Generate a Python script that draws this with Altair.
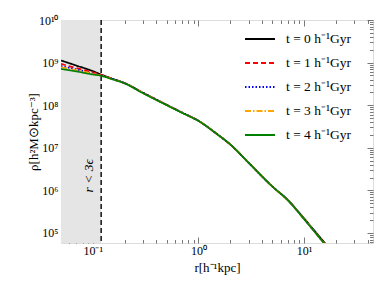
import altair as alt
import pandas as pd

# ---- data ----
r = [0.05, 0.07, 0.1, 0.12, 0.15, 0.2, 0.3, 0.5, 0.7, 1, 1.5, 2, 3, 5, 7, 10, 14, 18]
rho_t0 = [1.12e9, 8.5e8, 6.3e8, 5.25e8, 4.27e8, 3.31e8, 1.95e8, 1.02e8, 6.7e7, 4.3e7, 2.1e7, 1.2e7, 4.4e6, 1.24e6, 6.0e5, 2.2e5, 8.2e4, 3.9e4]
rho_t1 = [9.3e8, 7.4e8, 5.9e8, 5.13e8, 4.2e8, 3.3e8, 1.94e8, 1.02e8, 6.7e7, 4.3e7, 2.1e7, 1.2e7, 4.4e6, 1.24e6, 5.95e5, 2.15e5, 7.9e4, 3.7e4]
rho_t2 = [8.3e8, 6.9e8, 5.6e8, 5.0e8, 4.17e8, 3.28e8, 1.93e8, 1.01e8, 6.7e7, 4.3e7, 2.1e7, 1.2e7, 4.4e6, 1.24e6, 5.95e5, 2.14e5, 7.8e4, 3.65e4]
rho_t3 = [7.8e8, 6.6e8, 5.5e8, 4.95e8, 4.15e8, 3.27e8, 1.92e8, 1.01e8, 6.65e7, 4.3e7, 2.1e7, 1.2e7, 4.4e6, 1.24e6, 5.9e5, 2.13e5, 7.75e4, 3.6e4]
rho_t4 = [7.1e8, 6.2e8, 5.25e8, 4.9e8, 4.12e8, 3.25e8, 1.9e8, 1.0e8, 6.6e7, 4.27e7, 2.09e7, 1.2e7, 4.4e6, 1.24e6, 5.9e5, 2.12e5, 7.7e4, 3.6e4]
series_labels = ["t = 0 h⁻¹Gyr", "t = 1 h⁻¹Gyr", "t = 2 h⁻¹Gyr", "t = 3 h⁻¹Gyr", "t = 4 h⁻¹Gyr"]
series_colors = ["#000000", "#ff0000", "#0000ff", "#ffa500", "#008000"]
series_dash = [[1, 0], [5, 3], [1.5, 2], [6, 2, 1.5, 2], [1, 0]]

soft_lo, soft_hi = 0.05, 0.12      # shaded region r < 3 eps
text_r, text_rho = 0.092, 2.2e6    # annotation anchor

x_domain = [0.05, 45]
y_domain = [5.8e4, 1e10]
x_major = [0.1, 1, 10]
x_minor = [0.06, 0.07, 0.08, 0.09, 0.2, 0.3, 0.4, 0.5, 0.6, 0.7, 0.8, 0.9,
           2, 3, 4, 5, 6, 7, 8, 9, 20, 30, 40]
y_major = [1e5, 1e6, 1e7, 1e8, 1e9, 1e10]
y_minor = [m * 10 ** e for e in range(4, 10) for m in range(2, 10) if y_domain[0] <= m * 10 ** e <= y_domain[1]]

rows = []
for lab, vals in zip(series_labels, [rho_t0, rho_t1, rho_t2, rho_t3, rho_t4]):
    for rv, pv in zip(r, vals):
        rows.append({"r": rv, "rho": pv, "t": lab})
df = pd.DataFrame(rows)

W, H = 312, 223
FONT = "Liberation Serif"
AX = "#555555"
MAJ, MIN = 6, 3.5

xs = alt.Scale(type="log", domain=x_domain, nice=False)
ys = alt.Scale(type="log", domain=y_domain, nice=False)

x_lab = "datum.value < 0.5 ? '10⁻¹' : (datum.value < 5 ? '10⁰' : '10¹')"
y_lab = "['','','','','','10⁵','10⁶','10⁷','10⁸','10⁹','10¹⁰'][round(log(datum.value)/LN10)]"


def ax(orient, vals, size, labels=False, expr=None, title=None, **kw):
    args = dict(orient=orient, values=vals, tickSize=size, offset=-size, domain=False,
                grid=False, labels=labels, tickColor=AX, tickWidth=0.8, title=title)
    if expr:
        args["labelExpr"] = expr
    args.update(kw)
    return alt.Axis(**args)


base = alt.Chart(df)

shade = alt.Chart(pd.DataFrame({"a": [soft_lo], "b": [soft_hi]})).mark_rect(
    color="#e5e5e5").encode(
    x=alt.X("a:Q", scale=xs, axis=None), x2="b:Q",
    y=alt.value(0), y2=alt.value(H))

rule = alt.Chart(pd.DataFrame({"b": [soft_hi]})).mark_rule(
    color="black", strokeDash=[5, 3], strokeWidth=1.4).encode(
    x=alt.X("b:Q", scale=xs, axis=None))

label = alt.Chart(pd.DataFrame({"x": [text_r], "y": [text_rho], "s": ["r < 3ϵ"]})).mark_text(
    angle=270, font=FONT, fontSize=13.5, fontStyle="italic", color="black").encode(
    x=alt.X("x:Q", scale=xs, axis=None), y=alt.Y("y:Q", scale=ys, axis=None), text="s:N")

lines = base.mark_line(strokeWidth=1.7, clip=True, interpolate="monotone").encode(
    x=alt.X("r:Q", scale=xs, axis=None),
    y=alt.Y("rho:Q", scale=ys, axis=None),
    color=alt.Color("t:N", scale=alt.Scale(domain=series_labels, range=series_colors),
                    legend=alt.Legend(title=None, orient="none", legendX=183, legendY=3,
                                      symbolType="stroke", symbolStrokeWidth=2,
                                      symbolSize=900, labelFont=FONT, labelFontSize=13.5,
                                      rowPadding=1, labelOffset=10)),
    strokeDash=alt.StrokeDash("t:N", scale=alt.Scale(domain=series_labels, range=series_dash),
                              legend=alt.Legend(title=None, orient="none", legendX=183, legendY=3)),
)


def carrier(xa, ya):
    return base.mark_point(opacity=0, size=1).encode(
        x=alt.X("r:Q", scale=xs, axis=xa), y=alt.Y("rho:Q", scale=ys, axis=ya))


lab_kw = dict(labelFont=FONT, labelFontSize=12, labelColor="black",
              titleFont=FONT, titleFontSize=13, titleColor="black", titleFontWeight="normal")

A = carrier(ax("bottom", x_major, MAJ, True, x_lab, "r[h⁻¹kpc]", labelPadding=2,
               titleY=30, titleBaseline="middle", **lab_kw),
            ax("left", y_major, MAJ, True, y_lab, "ρ[h²M⊙kpc⁻³]", labelPadding=3,
               titleX=-34, titleBaseline="middle", **lab_kw))
B = carrier(ax("bottom", x_minor, MIN), ax("left", y_minor, MIN))
C = carrier(ax("top", x_major, MAJ), ax("right", y_major, MAJ))
D = carrier(ax("top", x_minor, MIN), ax("right", y_minor, MIN))

chart = alt.layer(shade, rule, label, lines, A, B, C, D).resolve_axis(
    x="independent", y="independent").properties(
    width=W, height=H,
    autosize=alt.AutoSizeParams(type="none"),
    padding={"left": 53, "top": 12, "right": 9, "bottom": 42},
).configure_view(stroke=AX, strokeWidth=1).configure(background="white")

chart.save("out.html", embed_options={"renderer": "svg", "actions": False})
